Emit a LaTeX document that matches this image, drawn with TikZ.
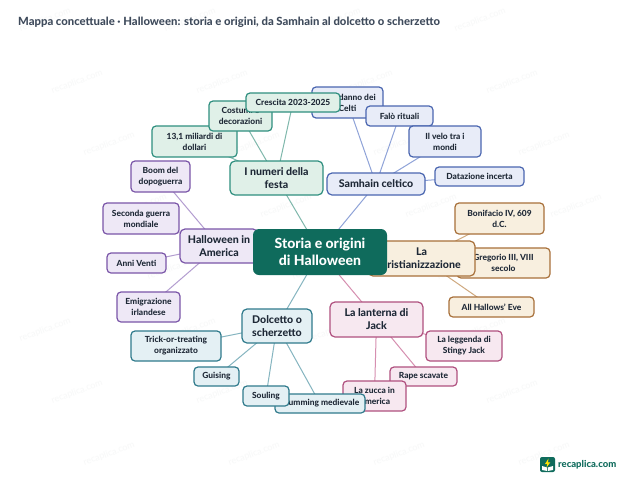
\documentclass[tikz,border=0pt]{standalone}
\usepackage{fontspec}
\setmainfont{Lato}[BoldFont={Lato Heavy}]
\usetikzlibrary{backgrounds}
\definecolor{inkc}{HTML}{1F2937}
\definecolor{titlec}{HTML}{3F4B5C}
\definecolor{wm}{HTML}{F7F8F8}
\definecolor{gf}{HTML}{E0F0E8}\definecolor{gd}{HTML}{2F8F7F}\definecolor{ge}{HTML}{7FB8AC}
\definecolor{bf}{HTML}{E8ECF8}\definecolor{bd}{HTML}{4A66B0}\definecolor{be}{HTML}{8FA3D8}
\definecolor{pf}{HTML}{EEE8F6}\definecolor{pd}{HTML}{7A55A8}\definecolor{pe}{HTML}{B39DD0}
\definecolor{of}{HTML}{F8EFDF}\definecolor{od}{HTML}{A8703A}\definecolor{oe}{HTML}{CFA97F}
\definecolor{tf}{HTML}{E4F0F4}\definecolor{td}{HTML}{2F7A8C}\definecolor{te}{HTML}{85B5C0}
\definecolor{rf}{HTML}{F7E8F0}\definecolor{rd}{HTML}{B0507F}\definecolor{re}{HTML}{D68FB0}
\definecolor{cen}{HTML}{0F6B5C}
\tikzset{
 x=1pt,y=-1pt,
 box/.style={rectangle,rounded corners=4pt,line width=1.2pt,inner sep=0pt,align=center,text=inkc,font=\fontsize{8.4}{11}\selectfont\bfseries},
 mainbox/.style={box,rounded corners=5pt,font=\fontsize{10.6}{13}\selectfont\bfseries},
 gn/.style={draw=gd,fill=gf},bn/.style={draw=bd,fill=bf},pn/.style={draw=pd,fill=pf},
 on/.style={draw=od,fill=of},tn/.style={draw=td,fill=tf},rn/.style={draw=rd,fill=rf},
 lnk/.style={line width=1pt},
 wmark/.style={rotate=20,text=wm,font=\fontsize{9}{9}\selectfont}
}
\newcommand{\nb}[7]{\node[#1,minimum width=#5pt-#3pt,minimum height=#6pt-#4pt] (#2) at ({(#3+#5)/2},{(#4+#6)/2}) {#7};}
\begin{document}
\begin{tikzpicture}
\useasboundingbox (0,0) rectangle (640,480);
\node[anchor=west,inner sep=0pt,text=titlec,font=\fontsize{11.3}{13}\selectfont\bfseries] (title) at (18,22) {Mappa concettuale · Halloween: storia e origini, da Samhain al dolcetto o scherzetto};
% green leaves
\nb{box,gn}{l13}{152}{126}{237}{157}{13,1 miliardi di\\dollari}
\nb{box,gn}{lcos}{209}{101}{272}{131}{Costumi e\\decorazioni}
% blue leaves
\nb{box,bn}{lcap}{312}{87}{383}{118}{Capodanno dei\\Celti}
\nb{box,bn}{lfal}{366}{106}{433}{126}{Falò rituali}
\nb{box,bn}{lvel}{409}{126}{481}{157}{Il velo tra i\\mondi}
\nb{box,bn}{ldat}{435}{167}{524}{186}{Datazione incerta}
\nb{box,gn}{lcre}{246}{93}{340}{112}{Crescita 2023-2025}
% purple leaves
\nb{box,pn}{lboo}{131}{161}{190}{192}{Boom del\\dopoguerra}
\nb{box,pn}{lsec}{103}{203}{179}{234}{Seconda guerra\\mondiale}
\nb{box,pn}{lann}{107}{253}{166}{273}{Anni Venti}
\nb{box,pn}{lemi}{117}{292}{180}{322}{Emigrazione\\irlandese}
% orange leaves
\nb{box,on}{lbon}{455}{203}{544}{234}{Bonifacio IV, 609\\d.C.}
\nb{box,on}{lgre}{457}{248}{550}{278}{Gregorio III, VIII\\secolo}
\nb{box,on}{lall}{449}{297}{534}{317}{All Hallows' Eve}
% pink leaves
\nb{box,rn}{lleg}{426}{331}{502}{361}{La leggenda di\\Stingy Jack}
\nb{box,rn}{lrap}{390}{367}{457}{386}{Rape scavate}
\nb{box,rn}{lzuc}{343}{381}{406}{411}{La zucca in\\America}
% teal leaves
\nb{box,tn}{ltri}{131}{331}{221}{361}{Trick-or-treating\\organizzato}
\nb{box,tn}{lgui}{194}{367}{239}{386}{Guising}
\nb{box,tn}{lmum}{275}{394}{365}{413}{Mumming medievale}
\nb{box,tn}{lsou}{243}{386}{289}{406}{Souling}
% main topics
\nb{mainbox,gn}{num}{230}{161}{323}{195}{I numeri della\\festa}
\nb{mainbox,bn}{sam}{327}{173}{425}{195}{Samhain celtico}
\nb{mainbox,pn}{hal}{180}{229}{258}{263}{Halloween in\\America}
\nb{mainbox,on}{cri}{368}{241}{475}{276}{La\\cristianizzazione}
\nb{mainbox,tn}{dol}{242}{309}{312}{343}{Dolcetto o\\scherzetto}
\nb{mainbox,rn}{lan}{330}{302}{423}{337}{La lanterna di\\Jack}
% centre
\node[rectangle,rounded corners=6pt,fill=cen,text=white,align=center,inner sep=0pt,minimum width=134pt,minimum height=46pt,font=\fontsize{14}{17}\selectfont\bfseries] (cen) at (320,252) {Storia e origini\\di Halloween};
% links
\begin{scope}[on background layer]
\fill[white] (0,0) rectangle (640,480);
\foreach \k in {0,...,7}{\foreach \n in {0,...,4}{
 \pgfmathsetmacro{\wx}{45+145*\n+32*mod(\k,5)}
 \ifdim\wx pt<600pt
 \node[wmark] at (\wx,{20+62*\k}) {recaplica.com};
 \fi}}
\draw[lnk,ge] (cen.center)--(num.center) (num.center)--(l13.center) (num.center)--(lcos.center) (num.center)--(lcre.center);
\draw[lnk,be] (cen.center)--(sam.center) (sam.center)--(lcap.center) (sam.center)--(lfal.center) (sam.center)--(lvel.center) (sam.center)--(ldat.center);
\draw[lnk,pe] (cen.center)--(hal.center) (hal.center)--(lboo.center) (hal.center)--(lsec.center) (hal.center)--(lann.center) (hal.center)--(lemi.center);
\draw[lnk,oe] (cen.center)--(cri.center) (cri.center)--(lbon.center) (cri.center)--(lgre.center) (cri.center)--(lall.center);
\draw[lnk,te] (cen.center)--(dol.center) (dol.center)--(ltri.center) (dol.center)--(lgui.center) (dol.center)--(lsou.center) (dol.center)--(lmum.center);
\draw[lnk,re] (cen.center)--(lan.center) (lan.center)--(lleg.center) (lan.center)--(lrap.center) (lan.center)--(lzuc.center);
\end{scope}
% logo
\fill[cen,rounded corners=2pt] (540,457) rectangle (555,472);
\fill[white] (542,466) -- (547.2,467.5) -- (547.2,471) -- (542,470) -- cycle;
\fill[white] (553,466) -- (547.8,467.5) -- (547.8,471) -- (553,470) -- cycle;
\fill[yellow!85!orange] (548.5,458.5) -- (545,464) -- (547.3,464) -- (546.5,467.5) -- (550.3,462.3) -- (548,462.3) -- cycle;
\node[anchor=west,inner sep=0pt,text=cen,font=\fontsize{9.5}{11}\selectfont\bfseries] (logo) at (558,464.5) {recaplica.com};
\end{tikzpicture}
\end{document}
